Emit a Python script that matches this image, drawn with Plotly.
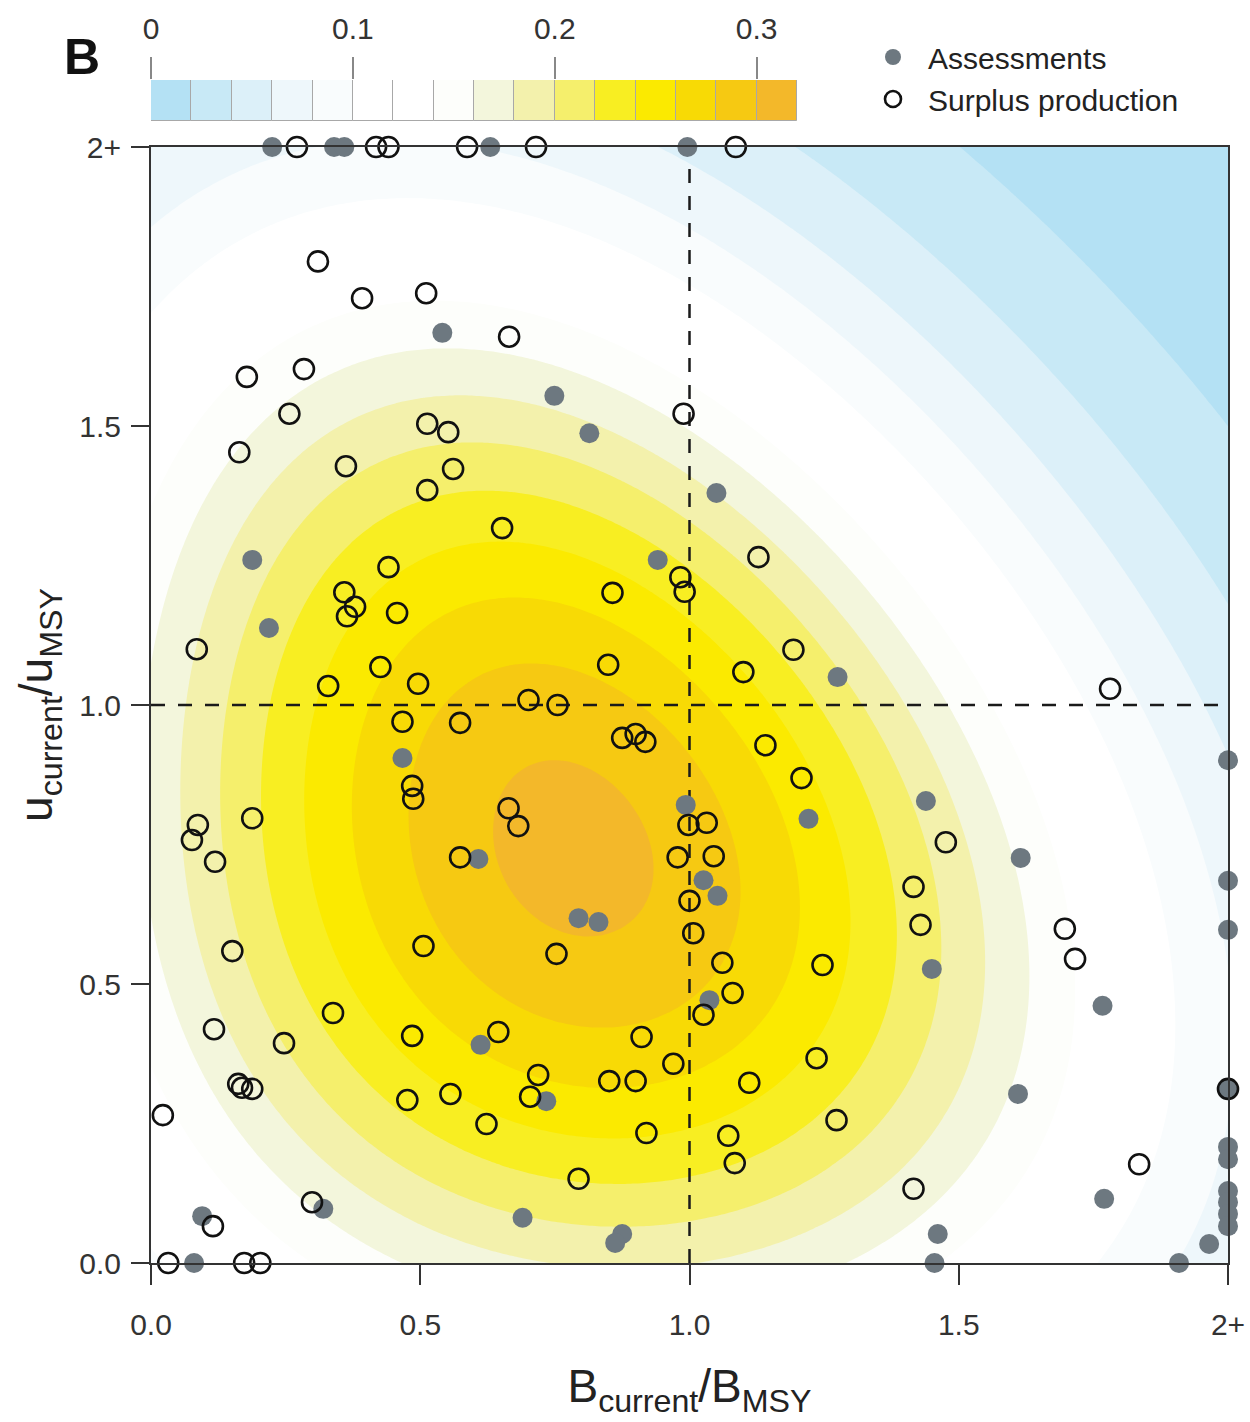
import numpy as np
import plotly.graph_objects as go

# ---- stock status: B_current/B_MSY (x) and u_current/u_MSY (y); values >= 2 shown at "2+"
assess_x = [0.225, 0.340, 0.359, 0.630, 0.996,
            0.541, 0.749, 0.814, 1.050, 0.941, 0.188, 0.219, 1.275, 0.467, 2.0,
            1.439, 0.993, 1.221, 1.615, 0.608, 1.026, 2.0, 1.052, 0.794, 0.831,
            2.0, 1.450, 1.037, 1.767, 0.612, 2.0, 1.610, 0.734, 2.0, 2.0,
            2.0, 2.0, 2.0, 2.0, 1.770, 0.320, 0.095, 0.690, 0.875, 1.461,
            0.862, 1.965, 0.080, 1.455, 1.909]
assess_y = [2.0, 2.0, 2.0, 2.0, 2.0,
            1.667, 1.554, 1.487, 1.380, 1.260, 1.260, 1.138, 1.050, 0.905, 0.901,
            0.828, 0.821, 0.796, 0.726, 0.724, 0.686, 0.685, 0.658, 0.618, 0.611,
            0.597, 0.527, 0.471, 0.461, 0.391, 0.312, 0.303, 0.290, 0.208, 0.186,
            0.129, 0.109, 0.088, 0.066, 0.115, 0.097, 0.084, 0.081, 0.052, 0.052,
            0.036, 0.034, 0.0, 0.0, 0.0]

surplus_x = [0.271, 0.418, 0.441, 0.587, 0.715, 1.086,
             0.310, 0.392, 0.511, 0.665, 0.178, 0.284, 0.257, 0.164, 0.513,
             0.552, 0.362, 0.561, 0.513, 0.989, 0.652, 1.128, 0.441, 0.983,
             0.991, 0.857, 0.359, 0.379, 0.364, 0.457, 0.085, 1.193, 0.426,
             0.849, 1.100, 0.329, 0.496, 0.701, 0.755, 1.781, 0.467, 0.574,
             0.875, 0.900, 0.918, 1.141, 1.208, 0.485, 0.487, 0.664, 0.682,
             0.998, 1.032, 0.087, 0.076, 0.188, 0.119, 0.574, 0.978, 1.045,
             1.476, 1.416, 1.000, 1.429, 1.697, 1.007, 0.151, 0.506, 0.753,
             1.716, 1.061, 1.247, 1.080, 0.338, 1.026, 0.117, 0.645, 0.485,
             0.911, 0.247, 1.236, 0.970, 0.719, 0.162, 0.169, 0.188, 0.851,
             0.900, 1.111, 0.556, 0.476, 0.704, 2.0, 0.022, 1.273, 0.623,
             0.920, 1.072, 1.084, 1.835, 0.794, 1.416, 0.299, 0.115,
             0.032, 0.173, 0.203]
surplus_y = [2.0, 2.0, 2.0, 2.0, 2.0, 2.0,
             1.795, 1.729, 1.738, 1.660, 1.588, 1.602, 1.522, 1.453, 1.504,
             1.489, 1.428, 1.423, 1.385, 1.522, 1.317, 1.265, 1.247, 1.229,
             1.203, 1.201, 1.202, 1.176, 1.159, 1.165, 1.100, 1.099, 1.068,
             1.072, 1.059, 1.034, 1.038, 1.009, 1.000, 1.029, 0.970, 0.968,
             0.941, 0.948, 0.934, 0.928, 0.869, 0.855, 0.832, 0.815, 0.783,
             0.785, 0.789, 0.785, 0.758, 0.797, 0.719, 0.727, 0.727, 0.729,
             0.754, 0.674, 0.649, 0.606, 0.599, 0.591, 0.559, 0.568, 0.554,
             0.545, 0.538, 0.534, 0.484, 0.448, 0.445, 0.419, 0.414, 0.407,
             0.405, 0.394, 0.367, 0.357, 0.337, 0.321, 0.314, 0.312, 0.326,
             0.326, 0.323, 0.303, 0.292, 0.298, 0.312, 0.265, 0.256, 0.249,
             0.233, 0.228, 0.179, 0.177, 0.151, 0.133, 0.109, 0.066,
             0.0, 0.0, 0.0]

axis_ticks = [0.0, 0.5, 1.0, 1.5, 2.0]
axis_ticktext = ["0.0", "0.5", "1.0", "1.5", "2+"]

# density levels and the fill colour of each band
levels = [0.00, 0.02, 0.04, 0.06, 0.08, 0.10, 0.12, 0.14, 0.16,
          0.18, 0.20, 0.22, 0.24, 0.26, 0.28, 0.30, 0.32]
band_colors = ["#b4e1f4", "#c8e9f6", "#dcf0f9", "#eef7fb", "#f9fcfd",
               "#ffffff", "#ffffff", "#fdfefb", "#f3f6dc", "#f3f1ac",
               "#f5ef6c", "#f8ee22", "#fbea00", "#f8da05", "#f6c912",
               "#f3b82a"]
cbar_ticks = [0, 0.1, 0.2, 0.3]
cbar_ticktext = ["0", "0.1", "0.2", "0.3"]

# ---- Gaussian kernel density of the stocks, kernel shaped by the sample
# covariance (points held at the 2+ cap are left out)
bw_factor = 1.12
px_all = np.array(assess_x + surplus_x)
py_all = np.array(assess_y + surplus_y)
keep = (px_all < 2.0) & (py_all < 2.0)
pts = np.vstack([px_all[keep], py_all[keep]])
H = np.cov(pts) * bw_factor ** 2
Hinv = np.linalg.inv(H)
norm = 2 * np.pi * np.sqrt(np.linalg.det(H)) * pts.shape[1]
gx = np.linspace(0, 2, 201)
gy = np.linspace(0, 2, 201)
GX, GY = np.meshgrid(gx, gy)
dens = np.zeros_like(GX)
for xi, yi in pts.T:
    dx, dy = GX - xi, GY - yi
    q = Hinv[0, 0] * dx * dx + 2 * Hinv[0, 1] * dx * dy + Hinv[1, 1] * dy * dy
    dens += np.exp(-0.5 * q)
dens /= norm

# stepped colour scale: one flat colour per band
zmin, zmax = levels[0], levels[-1]
nb = len(band_colors)
cscale = []
for i, c in enumerate(band_colors):
    cscale.append([i / nb, c])
    cscale.append([(i + 1) / nb, c])

FONT = "Liberation Sans, Arial, Helvetica, sans-serif"
GRAY = "#6d7880"

fig = go.Figure()

fig.add_trace(go.Contour(
    x=gx, y=gy, z=dens,
    zmin=zmin, zmax=zmax, colorscale=cscale, showscale=False,
    autocontour=False,
    contours=dict(start=levels[0], end=levels[-1], size=0.02, coloring="fill"),
    line=dict(width=0), hoverinfo="skip", showlegend=False,
))

# reference lines at B = B_MSY and u = u_MSY
fig.add_trace(go.Scatter(x=[1, 1], y=[0, 2], mode="lines",
                         line=dict(color="#1a1a1a", width=2.5, dash="14px,13px"),
                         showlegend=False, hoverinfo="skip"))
fig.add_trace(go.Scatter(x=[0, 2], y=[1, 1], mode="lines",
                         line=dict(color="#1a1a1a", width=2.5, dash="14px,13px"),
                         showlegend=False, hoverinfo="skip"))

fig.add_trace(go.Scatter(
    x=assess_x, y=assess_y, mode="markers", name="Assessments",
    marker=dict(symbol="circle", size=20, color=GRAY, line=dict(width=0)),
    cliponaxis=False,
))
fig.add_trace(go.Scatter(
    x=surplus_x, y=surplus_y, mode="markers", name="Surplus production",
    marker=dict(symbol="circle-open", size=20, color="#111111",
                line=dict(width=2.6, color="#111111")),
    cliponaxis=False,
))

# colour key drawn as a strip of cells on its own axis
fig.add_trace(go.Bar(
    x=[(levels[i] + levels[i + 1]) / 2 for i in range(nb)],
    y=[1] * nb, width=[0.02] * nb,
    marker=dict(color=band_colors, line=dict(color="#a8a8a8", width=1)),
    xaxis="x2", yaxis="y2", showlegend=False, hoverinfo="skip",
))

TOP, BOTTOM = 80, 159
paper_h = 1422 - TOP - BOTTOM


def py_to_paper(p):
    return (1263 - p) / paper_h


fig.update_layout(
    width=1250, height=1422,
    margin=dict(l=151, r=22, t=TOP, b=BOTTOM, autoexpand=False),
    paper_bgcolor="white", plot_bgcolor="white",
    font=dict(family=FONT, color="#222222", size=30),
    xaxis=dict(
        domain=[0, 1], range=[0, 2], tickvals=axis_ticks, ticktext=axis_ticktext,
        ticks="outside", ticklen=20, tickwidth=2, tickcolor="#333333",
        ticklabelstandoff=14, automargin=False,
        showline=True, linewidth=2, linecolor="#333333", mirror=True,
        showgrid=False, zeroline=False,
        tickfont=dict(size=30, color="#333333"),
        title=dict(text="B<sub>current</sub>/B<sub>MSY</sub>",
                   font=dict(size=46, color="#222222"), standoff=30),
    ),
    yaxis=dict(
        domain=[0, py_to_paper(147)], range=[0, 2],
        tickvals=axis_ticks, ticktext=axis_ticktext,
        ticks="outside", ticklen=18, tickwidth=2, tickcolor="#333333",
        ticklabelstandoff=4, automargin=False,
        showline=True, linewidth=2, linecolor="#333333", mirror=True,
        showgrid=False, zeroline=False,
        tickfont=dict(size=30, color="#333333"),
        title=dict(text="u<sub>current</sub>/u<sub>MSY</sub>",
                   font=dict(size=46, color="#222222"), standoff=12),
    ),
    xaxis2=dict(
        domain=[0, (797 - 151) / 1077], range=[0, 0.32], anchor="y2", side="top",
        tickvals=cbar_ticks, ticktext=cbar_ticktext,
        ticks="outside", ticklen=22, tickwidth=1.5, tickcolor="#888888",
        ticklabelstandoff=6, showline=False, showgrid=False, zeroline=False,
        automargin=False,
        tickfont=dict(size=30, color="#333333"), fixedrange=True,
    ),
    yaxis2=dict(
        domain=[py_to_paper(121), py_to_paper(80)], range=[0, 1],
        anchor="x2", visible=False, fixedrange=True,
    ),
    bargap=0,
    legend=dict(
        x=(858 - 151) / 1077, xanchor="left", y=py_to_paper(31), yanchor="top",
        font=dict(size=30, color="#222222"), bgcolor="rgba(0,0,0,0)",
        itemwidth=60, tracegroupgap=0,
    ),
    annotations=[dict(
        text="<b>B</b>", x=(82 - 151) / 1077, y=py_to_paper(57),
        xref="paper", yref="paper", xanchor="center", yanchor="middle",
        showarrow=False,
        font=dict(size=50, color="#111111", family=FONT),
    )],
)

fig.write_html("out.html")
